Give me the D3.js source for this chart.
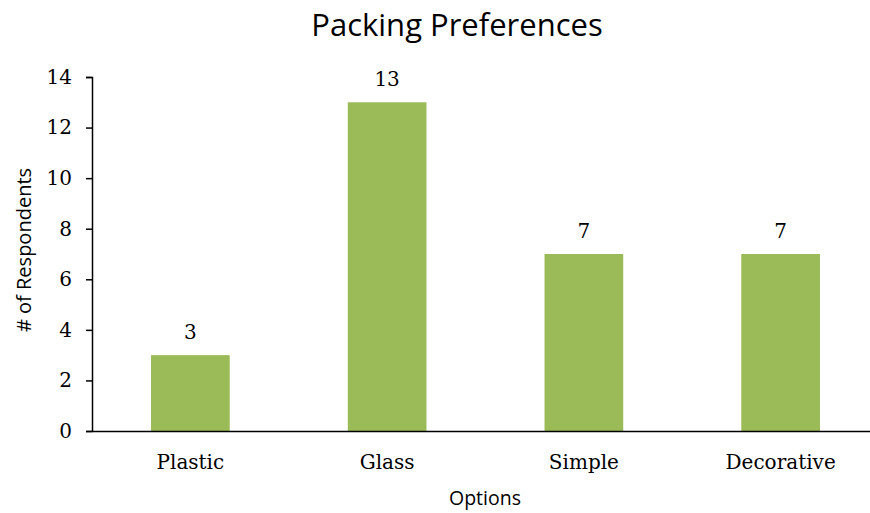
<!DOCTYPE html>
<html>
<head>
<meta charset="utf-8">
<script src="https://cdn.jsdelivr.net/npm/d3@7"></script>
<style>
  html, body { margin: 0; padding: 0; background: #fff; }
  svg { display: block; }
</style>
</head>
<body>
<div id="chart"></div>
<script>
// Survey results: packaging preference counts
const categories = ["Plastic", "Glass", "Simple", "Decorative"];
const respondents = [3, 13, 7, 7];
const yTicks = [0, 2, 4, 6, 8, 10, 12, 14];

const width = 870, height = 513;
const plotLeft = 92, plotRight = 879, plotTop = 77, plotBottom = 431;

const svg = d3.select("#chart").append("svg")
  .attr("width", width).attr("height", height);

const x = d3.scaleBand().domain(categories).range([plotLeft, plotRight]).paddingInner(0.6).paddingOuter(0.3);
const y = d3.scaleLinear().domain([0, 14]).range([plotBottom, plotTop]);

const serif = "'DejaVu Serif', serif";
const sans = "'Open Sans', sans-serif";

// bars
svg.append("g").selectAll("rect").data(categories).join("rect")
  .attr("x", d => x(d))
  .attr("width", x.bandwidth())
  .attr("y", (d, i) => y(respondents[i]))
  .attr("height", (d, i) => y(0) - y(respondents[i]))
  .attr("fill", "#9BBB59");

// value labels
svg.append("g").selectAll("text").data(categories).join("text")
  .attr("x", d => x(d) + x.bandwidth() / 2)
  .attr("y", (d, i) => y(respondents[i]) - 16.5)
  .attr("text-anchor", "middle")
  .style("font-family", serif).style("font-size", "20px").attr("fill", "#000")
  .text((d, i) => respondents[i]);

// y axis
const yAxis = svg.append("g").attr("transform", `translate(${plotLeft},0)`)
  .call(d3.axisLeft(y).tickValues(yTicks).tickSize(6).tickPadding(14).tickFormat(d3.format("d")));
yAxis.select(".domain").attr("stroke", "#000").attr("stroke-width", 1.5);
yAxis.selectAll(".tick line").attr("stroke", "#000").attr("stroke-width", 1.5);
yAxis.selectAll(".tick text").style("font-family", serif).style("font-size", "20px").attr("fill", "#000");

// x axis
const xAxis = svg.append("g").attr("transform", `translate(0,${plotBottom})`)
  .call(d3.axisBottom(x).tickSize(0));
xAxis.select(".domain").attr("stroke", "#000").attr("stroke-width", 1.5);
xAxis.selectAll(".tick text").attr("y", 38).attr("dy", 0)
  .style("font-family", serif).style("font-size", "20px").attr("fill", "#000");

// title and axis titles
svg.append("text").attr("x", 457).attr("y", 36).attr("text-anchor", "middle")
  .style("font-family", sans).style("font-size", "31px").attr("fill", "#000")
  .text("Packing Preferences");

svg.append("text").attr("x", 485).attr("y", 505).attr("text-anchor", "middle")
  .style("font-family", sans).style("font-size", "19.5px").attr("fill", "#000")
  .text("Options");

svg.append("text").attr("transform", `translate(31,250) rotate(-90)`)
  .attr("text-anchor", "middle")
  .style("font-family", sans).style("font-size", "20px").attr("fill", "#000")
  .text("# of Respondents");
</script>
</body>
</html>
